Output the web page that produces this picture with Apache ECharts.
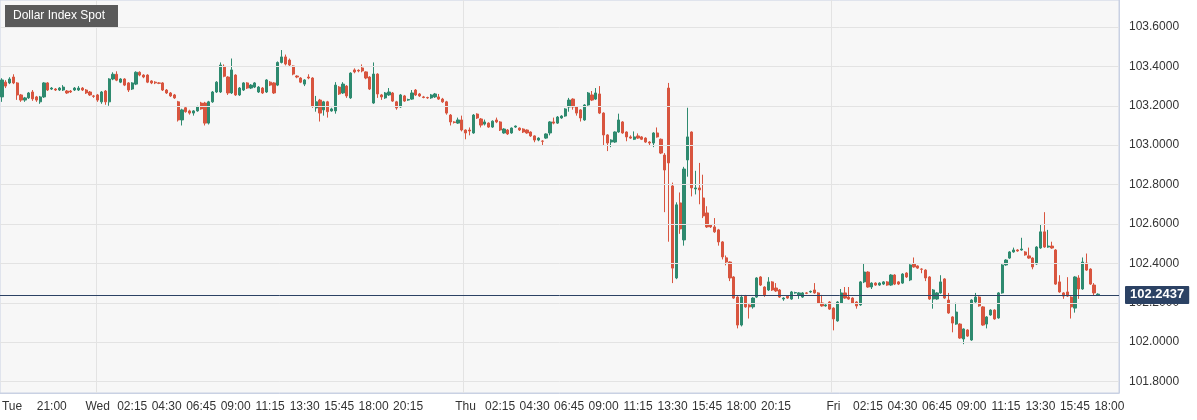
<!DOCTYPE html>
<html><head><meta charset="utf-8">
<script src="https://cdn.jsdelivr.net/npm/echarts@6/dist/echarts.min.js"></script>
<style>html,body{margin:0;padding:0;background:#fff}#c{width:1197px;height:420px}</style>
</head><body><div id="c"></div>
<script>
const title = 'Dollar Index Spot';
const lastPrice = 102.2437;
const yTicks = [101.8, 102.0, 102.2, 102.4, 102.6, 102.8, 103.0, 103.2, 103.4, 103.6];
// candles: [open, close, low, high]
const candles = [
[103.245,103.331,103.22,103.34],[103.32,103.30,103.29,103.33],[103.316,103.336,103.31,103.345],[103.346,103.316,103.31,103.36],
[103.316,103.255,103.23,103.32],[103.255,103.229,103.22,103.26],[103.229,103.24,103.22,103.245],[103.24,103.265,103.235,103.27],
[103.27,103.235,103.225,103.28],[103.245,103.229,103.22,103.25],[103.22,103.245,103.21,103.25],[103.245,103.316,103.24,103.32],
[103.316,103.28,103.275,103.32],[103.285,103.29,103.28,103.295],[103.285,103.28,103.275,103.29],[103.28,103.29,103.275,103.295],
[103.28,103.295,103.275,103.305],[103.275,103.265,103.26,103.28],[103.275,103.27,103.265,103.28],[103.28,103.29,103.275,103.295],
[103.28,103.29,103.275,103.30],[103.29,103.28,103.275,103.295],[103.28,103.265,103.26,103.285],[103.27,103.255,103.25,103.275],
[103.25,103.248,103.24,103.255],[103.255,103.229,103.22,103.26],[103.22,103.27,103.21,103.275],[103.275,103.22,103.205,103.28],
[103.22,103.336,103.20,103.34],[103.336,103.36,103.33,103.37],[103.36,103.33,103.325,103.375],[103.32,103.336,103.315,103.34],
[103.336,103.305,103.30,103.34],[103.316,103.28,103.27,103.32],[103.285,103.316,103.28,103.32],[103.31,103.37,103.305,103.375],
[103.37,103.356,103.35,103.375],[103.356,103.346,103.34,103.36],[103.356,103.32,103.315,103.36],[103.326,103.316,103.31,103.33],
[103.32,103.316,103.31,103.325],[103.316,103.314,103.31,103.32],[103.316,103.28,103.275,103.32],[103.28,103.265,103.26,103.285],
[103.265,103.25,103.245,103.27],[103.255,103.24,103.235,103.26],[103.22,103.128,103.12,103.225],[103.128,103.179,103.10,103.185],
[103.19,103.17,103.165,103.195],[103.174,103.163,103.155,103.18],[103.163,103.174,103.15,103.178],[103.174,103.194,103.17,103.20],
[103.214,103.184,103.18,103.22],[103.214,103.112,103.10,103.22],[103.112,103.22,103.105,103.225],[103.22,103.27,103.215,103.275],
[103.27,103.32,103.265,103.325],[103.27,103.407,103.265,103.42],[103.40,103.35,103.345,103.41],[103.346,103.265,103.255,103.35],
[103.265,103.382,103.26,103.44],[103.356,103.255,103.25,103.36],[103.255,103.29,103.25,103.295],[103.28,103.316,103.275,103.32],
[103.316,103.29,103.285,103.32],[103.29,103.305,103.285,103.31],[103.295,103.316,103.29,103.32],[103.27,103.295,103.265,103.30],
[103.29,103.265,103.26,103.295],[103.27,103.331,103.265,103.335],[103.32,103.305,103.30,103.325],[103.316,103.265,103.26,103.32],
[103.305,103.42,103.30,103.425],[103.42,103.448,103.415,103.483],[103.448,103.412,103.405,103.46],[103.432,103.407,103.40,103.44],
[103.402,103.361,103.355,103.405],[103.351,103.346,103.34,103.355],[103.341,103.32,103.315,103.345],[103.31,103.331,103.30,103.335],
[103.346,103.341,103.335,103.36],[103.341,103.199,103.19,103.345],[103.189,103.22,103.17,103.25],[103.229,103.163,103.12,103.235],
[103.179,103.22,103.15,103.225],[103.22,103.17,103.14,103.225],[103.174,103.184,103.17,103.19],[103.174,103.305,103.16,103.32],
[103.295,103.26,103.255,103.30],[103.265,103.31,103.26,103.32],[103.30,103.25,103.24,103.305],[103.24,103.366,103.235,103.37],
[103.382,103.372,103.365,103.39],[103.38,103.377,103.37,103.385],[103.392,103.377,103.37,103.41],[103.372,103.341,103.335,103.375],
[103.346,103.285,103.28,103.35],[103.214,103.361,103.21,103.42],[103.361,103.26,103.24,103.365],[103.255,103.245,103.23,103.26],
[103.24,103.265,103.235,103.27],[103.255,103.27,103.25,103.29],[103.265,103.224,103.22,103.27],[103.22,103.189,103.18,103.225],
[103.194,103.255,103.19,103.26],[103.25,103.224,103.22,103.255],[103.229,103.232,103.225,103.236],[103.234,103.265,103.23,103.28],
[103.28,103.255,103.25,103.285],[103.26,103.25,103.245,103.265],[103.245,103.242,103.238,103.25],[103.242,103.24,103.235,103.246],
[103.24,103.255,103.235,103.26],[103.245,103.26,103.24,103.265],[103.245,103.234,103.23,103.26],[103.234,103.22,103.215,103.24],
[103.22,103.163,103.155,103.225],[103.153,103.118,103.10,103.158],[103.118,103.115,103.11,103.122],[103.112,103.128,103.108,103.14],
[103.128,103.077,103.07,103.15],[103.077,103.062,103.03,103.08],[103.077,103.072,103.05,103.09],[103.062,103.153,103.058,103.158],
[103.158,103.138,103.133,103.162],[103.133,103.102,103.09,103.138],[103.107,103.118,103.10,103.13],[103.112,103.092,103.088,103.116],
[103.092,103.122,103.088,103.126],[103.128,103.118,103.112,103.14],[103.118,103.077,103.072,103.122],[103.062,103.082,103.058,103.086],
[103.077,103.057,103.052,103.082],[103.062,103.087,103.058,103.09],[103.092,103.097,103.088,103.10],[103.087,103.077,103.072,103.09],
[103.082,103.067,103.062,103.086],[103.077,103.062,103.058,103.08],[103.067,103.047,103.042,103.07],[103.047,103.026,103.015,103.05],
[103.026,103.036,103.02,103.04],[103.021,103.02,103.0,103.025],[103.036,103.057,103.032,103.06],[103.062,103.118,103.05,103.122],
[103.118,103.112,103.106,103.14],[103.112,103.143,103.108,103.148],[103.138,103.148,103.134,103.152],[103.148,103.184,103.144,103.188],
[103.194,103.229,103.17,103.24],[103.234,103.194,103.18,103.238],[103.194,103.163,103.15,103.198],[103.179,103.138,103.12,103.183],
[103.128,103.204,103.124,103.208],[103.204,103.265,103.20,103.27],[103.255,103.229,103.224,103.275],[103.234,103.265,103.23,103.29],
[103.26,103.163,103.158,103.30],[103.163,103.052,103.0,103.167],[103.052,103.011,102.97,103.056],[103.016,103.026,102.99,103.03],
[103.016,103.067,103.012,103.07],[103.067,103.128,103.063,103.16],[103.118,103.062,103.058,103.122],[103.067,103.042,103.02,103.07],
[103.042,103.036,103.032,103.05],[103.03,103.042,103.026,103.07],[103.047,103.036,103.032,103.06],[103.042,103.03,103.026,103.046],
[103.036,103.016,103.012,103.04],[103.016,103.011,103.0,103.02],[103.011,103.062,102.99,103.066],[103.062,103.042,103.038,103.09],
[103.03,102.96,102.955,103.034],[102.95,102.874,102.66,102.96],[103.29,102.91,102.51,103.316],[102.793,102.376,102.30,102.81],
[102.326,102.697,102.32,102.71],[102.707,102.575,102.55,102.76],[102.519,102.879,102.49,102.89],[102.925,103.042,102.84,103.19],
[103.067,102.783,102.74,103.07],[102.778,102.783,102.75,102.87],[102.783,102.773,102.70,102.91],[102.732,102.641,102.63,102.85],
[102.656,102.585,102.58,102.69],[102.595,102.585,102.58,102.60],[102.585,102.56,102.555,102.63],[102.57,102.509,102.49,102.575],
[102.509,102.433,102.42,102.513],[102.428,102.407,102.39,102.44],[102.407,102.326,102.31,102.41],[102.331,102.224,102.22,102.335],
[102.229,102.087,102.07,102.233],[102.087,102.229,102.08,102.24],[102.234,102.179,102.175,102.24],[102.189,102.179,102.12,102.193],
[102.179,102.224,102.17,102.228],[102.229,102.326,102.225,102.33],[102.331,102.29,102.285,102.335],[102.28,102.24,102.23,102.284],
[102.265,102.306,102.26,102.33],[102.306,102.265,102.26,102.31],[102.275,102.26,102.255,102.30],[102.265,102.229,102.225,102.27],
[102.219,102.224,102.21,102.228],[102.234,102.224,102.22,102.238],[102.219,102.255,102.215,102.26],[102.25,102.252,102.246,102.256],
[102.24,102.25,102.22,102.254],[102.229,102.25,102.225,102.254],[102.25,102.248,102.244,102.254],[102.255,102.258,102.25,102.262],
[102.265,102.25,102.246,102.30],[102.25,102.199,102.195,102.254],[102.199,102.184,102.18,102.24],[102.184,102.189,102.18,102.193],
[102.204,102.168,102.164,102.208],[102.173,102.118,102.06,102.177],[102.108,102.204,102.104,102.208],[102.199,102.25,102.195,102.27],
[102.25,102.224,102.22,102.28],[102.229,102.219,102.215,102.28],[102.224,102.199,102.195,102.228],[102.204,102.184,102.17,102.208],
[102.189,102.306,102.185,102.31],[102.306,102.356,102.30,102.40],[102.356,102.28,102.276,102.36],[102.28,102.30,102.27,102.304],
[102.30,102.29,102.286,102.304],[102.29,102.30,102.286,102.304],[102.295,102.306,102.29,102.31],[102.306,102.29,102.286,102.31],
[102.29,102.341,102.286,102.345],[102.341,102.295,102.29,102.345],[102.306,102.295,102.29,102.31],[102.30,102.346,102.296,102.35],
[102.351,102.331,102.326,102.355],[102.316,102.392,102.31,102.396],[102.397,102.382,102.378,102.43],[102.387,102.376,102.372,102.39],
[102.371,102.37,102.35,102.375],[102.366,102.326,102.31,102.37],[102.331,102.219,102.215,102.335],[102.219,102.265,102.17,102.27],
[102.219,102.25,102.215,102.254],[102.25,102.306,102.246,102.34],[102.321,102.224,102.22,102.325],[102.214,102.148,102.144,102.25],
[102.128,102.097,102.05,102.132],[102.092,102.153,102.088,102.20],[102.092,102.021,102.017,102.096],[102.016,102.067,101.99,102.07],
[102.062,102.031,102.027,102.066],[102.011,102.214,102.007,102.218],[102.204,102.229,102.20,102.25],[102.229,102.184,102.18,102.233],
[102.179,102.087,102.083,102.183],[102.092,102.128,102.07,102.132],[102.138,102.163,102.134,102.167],[102.163,102.118,102.114,102.167],
[102.123,102.25,102.119,102.254],[102.25,102.392,102.246,102.396],[102.392,102.417,102.388,102.421],[102.427,102.458,102.423,102.462],
[102.458,102.468,102.454,102.48],[102.468,102.463,102.459,102.472],[102.468,102.473,102.464,102.53],[102.458,102.443,102.439,102.462],
[102.438,102.427,102.423,102.48],[102.427,102.382,102.37,102.431],[102.397,102.483,102.393,102.487],[102.478,102.56,102.474,102.60],
[102.56,102.483,102.479,102.66],[102.483,102.488,102.479,102.57],[102.488,102.478,102.474,102.51],[102.468,102.295,102.291,102.472],
[102.306,102.255,102.251,102.34],[102.25,102.234,102.22,102.254],[102.255,102.234,102.23,102.33],[102.229,102.179,102.12,102.233],
[102.173,102.331,102.15,102.335],[102.326,102.27,102.22,102.34],[102.27,102.407,102.266,102.43],[102.402,102.366,102.362,102.45],
[102.371,102.295,102.291,102.375],[102.29,102.25,102.235,102.30],[102.24,102.2437,102.236,102.248]
];
const nCategories = 292;
const dayNames = ['Sun','Mon','Tue','Wed','Thu','Fri','Sat'];
const tickTimes = ['02:15','04:30','06:45','09:00','11:15','13:30','15:45','18:00','20:15'];
const categories = [];
const labels = {};
for (let i = 0; i < nCategories; i++) {
  const mins = (2*24*60 + 17*60 + 45) + i*15;
  const d = Math.floor(mins/1440), h = Math.floor((mins%1440)/60), m = mins%60;
  const t = String(h).padStart(2,'0') + ':' + String(m).padStart(2,'0');
  categories.push(dayNames[d] + ' ' + t);
  if (i === 0) labels[i] = 'Tue';
  else if (t === '00:00') labels[i] = dayNames[d];
  else if (d === 2 && t === '21:00') labels[i] = t;
  else if (d > 2 && tickTimes.includes(t)) labels[i] = t;
}
const up = '#2e8a6f', down = '#d8553f';
const chart = echarts.init(document.getElementById('c'));
const gridLines = yTicks.map(v => ({yAxis: v, lineStyle:{color:'#e3e3e3', width:1, type:'solid'},
  label:{show:true, position:'end', distance:10, formatter: v.toFixed(4), color:'#333', fontSize:12, fontFamily:'Liberation Sans, Arial'}}));
gridLines.push({yAxis: lastPrice, lineStyle:{color:'#2c4264', width:1, type:'solid'},
  label:{show:true, position:'end', distance:6, formatter: lastPrice.toFixed(4), color:'#fff', fontWeight:'bold', fontSize:13,
    fontFamily:'Liberation Sans, Arial', backgroundColor:'#2c4264', padding:[3,5,2,5], borderRadius:1}});
chart.setOption({
  animation:false,
  grid:{left:0, top:0, right:78, bottom:27, containLabel:false, outerBoundsMode:'none', show:true, backgroundColor:'#f7f7f7', borderColor:'#c9d1e3', borderWidth:1},
  xAxis:{type:'category', data:categories, boundaryGap:true,
    axisLine:{lineStyle:{color:'#c9d1e3'}},
    axisTick:{interval:(i)=>labels[i]!==undefined, length:4, lineStyle:{color:'#999'}},
    axisLabel:{interval:(i)=>labels[i]!==undefined, formatter:(v,i)=>labels[i]||'', color:'#333', fontSize:12, fontFamily:'Liberation Sans, Arial', margin:8, hideOverlap:false, alignMinLabel:'left'},
    splitLine:{show:true, interval:(i)=>labels[i]==='Wed'||labels[i]==='Thu'||labels[i]==='Fri', lineStyle:{color:'#e3e3e3'}}},
  yAxis:{type:'value', position:'right', min:101.742, max:103.737, scale:true,
    axisLine:{show:true, lineStyle:{color:'#c9d1e3'}}, axisTick:{show:false}, axisLabel:{show:false}, splitLine:{show:false}},
  graphic:[
    {type:'rect', left:5, top:5, shape:{width:113, height:22}, style:{fill:'#5a5a5a'}, z:100},
    {type:'text', left:13, top:10, style:{text:title, fill:'#fff', font:'12px "Liberation Sans", Arial'}, z:101}
  ],
  series:[{type:'candlestick', data:candles.map(c=>[c[0],c[1],c[2],c[3]]), barWidth:'70%',
    itemStyle:{color:up, color0:down, borderColor:up, borderColor0:down, borderWidth:1},
    markLine:{symbol:'none', silent:true, animation:false, data:gridLines}, z:2}]
});
</script></body></html>
